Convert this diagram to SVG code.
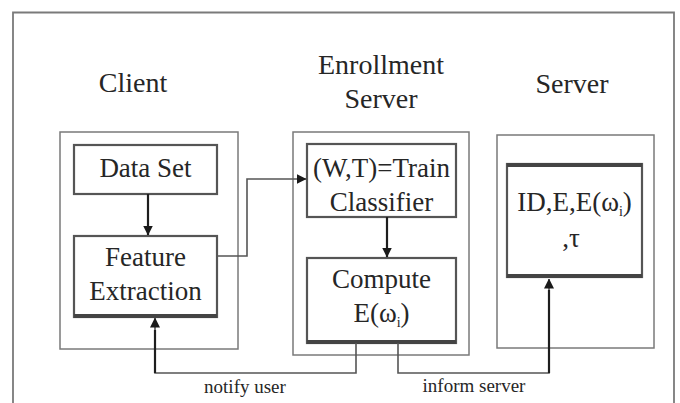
<svg xmlns="http://www.w3.org/2000/svg" width="680" height="403" viewBox="0 0 680 403">
<defs>
<style>
.t{font-family:"Liberation Serif","Times New Roman",serif;fill:#262626;text-anchor:middle}
.title{font-size:28px}
.box{font-size:27px}
.lbl{font-size:19px}
.panel{fill:none;stroke:#7a7a7a;stroke-width:1.5}
.node{fill:#fff;stroke:#555;stroke-width:2.2}
.thick{stroke:#444;stroke-width:4;fill:none}
.conn{fill:none;stroke:#555;stroke-width:1.6}
.arr{fill:none;stroke:#1e1e1e;stroke-width:2.2}
</style>
<marker id="ah" viewBox="0 0 10 10" refX="9.5" refY="5" markerWidth="10" markerHeight="10" markerUnits="userSpaceOnUse" orient="auto">
<path d="M0,0 L10,5 L0,10 z" fill="#1a1a1a"/>
</marker>
</defs>
<rect width="680" height="403" fill="#fff"/>
<path d="M13,410 V12.5 H674 V410" fill="none" stroke="#7a7a7a" stroke-width="1.8"/>

<g id="client">
<rect class="panel" x="60" y="132" width="178" height="217"/>
<text class="t title" x="133" y="92">Client</text>
</g>
<g id="enrollment">
<rect class="panel" x="293" y="132" width="176" height="223"/>
<text class="t title" x="381" y="74">Enrollment</text>
<text class="t title" x="381" y="108">Server</text>
</g>
<g id="server">
<rect class="panel" x="497" y="135" width="157" height="213"/>
<text class="t title" x="572" y="93">Server</text>
</g>

<g id="dataset">
<rect class="node" x="74" y="145" width="143" height="49"/>
<text class="t box" x="145.5" y="177">Data Set</text>
</g>
<g id="feature">
<rect class="node" x="74" y="236" width="143" height="81"/>
<line class="thick" x1="74" y1="316" x2="217" y2="316"/>
<text class="t box" x="145.5" y="266">Feature</text>
<text class="t box" x="145.5" y="300">Extraction</text>
</g>
<g id="train">
<rect class="node" x="307" y="144" width="149" height="73"/>
<text class="t box" x="381.5" y="177">(W,T)=Train</text>
<text class="t box" x="381.5" y="211">Classifier</text>
</g>
<g id="compute">
<rect class="node" x="307" y="258" width="149" height="85"/>
<line class="thick" x1="307" y1="342" x2="456" y2="342"/>
<text class="t box" x="381.5" y="288">Compute</text>
<text class="t box" x="381.5" y="322">E(ω<tspan font-size="14" dy="5">i</tspan><tspan dy="-5">)</tspan></text>
</g>
<g id="store">
<rect class="node" x="507" y="164" width="135" height="113"/>
<line class="thick" x1="507" y1="165" x2="642" y2="165"/>
<line class="thick" x1="507" y1="276" x2="642" y2="276"/>
<text class="t box" x="574.5" y="211">ID,E,E(ω<tspan font-size="14" dy="5">i</tspan><tspan dy="-5">)</tspan></text>
<text class="t box" x="571" y="247">,τ</text>
</g>

<g id="connectors">
<line class="arr" x1="148" y1="194" x2="148" y2="235" marker-end="url(#ah)"/>
<line class="arr" x1="387" y1="217" x2="387" y2="257" marker-end="url(#ah)"/>
<polyline class="conn" points="217,256 247,256 247,179 306,179" marker-end="url(#ah)"/>
<polyline class="conn" points="356,343 356,373 155,373 155,318" marker-end="url(#ah)"/>
<line class="arr" x1="155" y1="373" x2="155" y2="330"/>
<polyline class="conn" points="398,343 398,373 549,373 549,279" marker-end="url(#ah)"/>
<line class="arr" x1="549" y1="373" x2="549" y2="290"/>
<text class="t lbl" x="245" y="393">notify user</text>
<text class="t lbl" x="474" y="392">inform server</text>
</g>
</svg>
